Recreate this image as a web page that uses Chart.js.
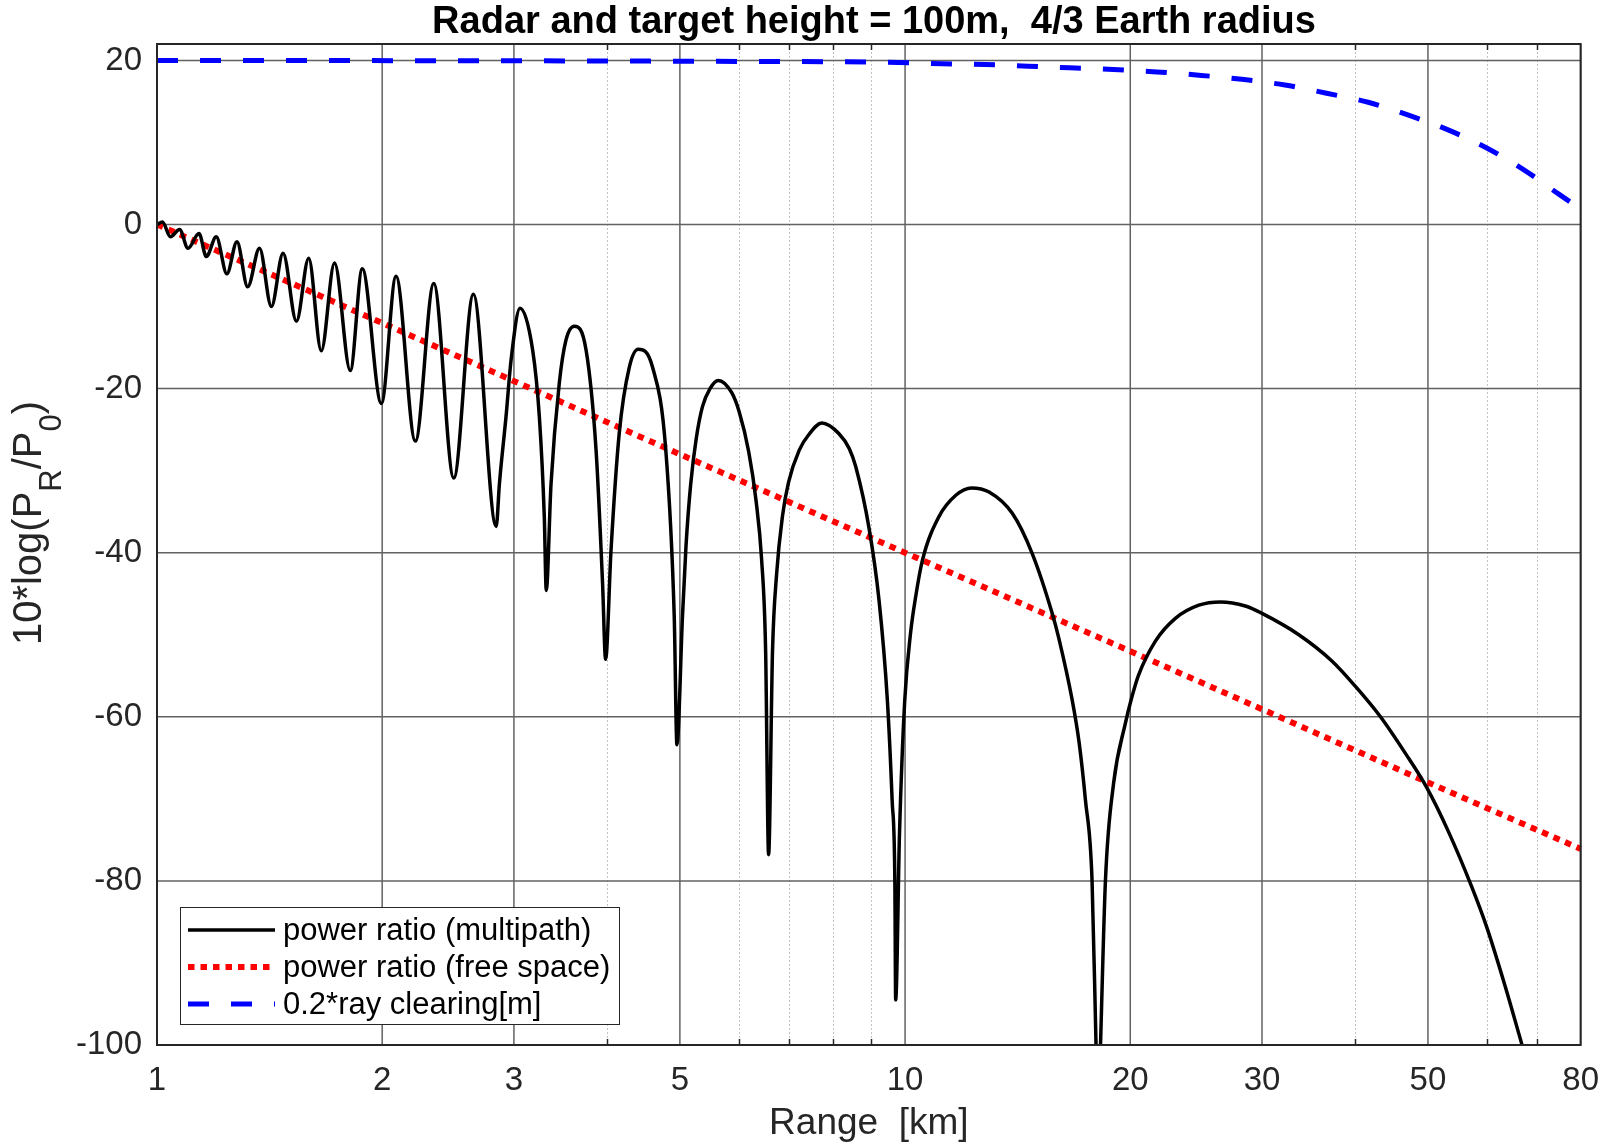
<!DOCTYPE html>
<html>
<head>
<meta charset="utf-8">
<script src="https://cdn.jsdelivr.net/npm/chart.js@4.4.0/dist/chart.umd.min.js"></script>
<style>
  html, body { margin: 0; padding: 0; background: #ffffff; }
  #grafica { display: block; }
</style>
</head>
<body>
<canvas id="grafica" width="1615" height="1143"></canvas>
<script>
// valores
const rango_multipath = [
  1.000, 1.017, 1.042, 1.072, 1.100, 1.138, 1.164, 1.200, 1.240, 1.279,
  1.322, 1.371, 1.422, 1.474, 1.536, 1.595, 1.658, 1.727, 1.813, 1.881,
  1.995, 2.087, 2.215, 2.344, 2.493, 2.648, 2.841, 2.869, 2.928, 2.974,
  3.057, 3.178, 3.244, 3.294, 3.314, 3.363, 3.449, 3.521, 3.613, 3.746,
  3.863, 3.941, 3.978, 4.045, 4.148, 4.279, 4.399, 4.597, 4.788, 4.914,
  4.955, 5.040, 5.095, 5.170, 5.260, 5.360, 5.486, 5.626, 5.865, 6.000,
  6.180, 6.320, 6.430, 6.510, 6.570, 6.650, 6.734, 6.855, 6.987, 7.220,
  7.450, 7.740, 8.160, 8.420, 8.590, 8.950, 9.230, 9.470, 9.610, 9.690,
  9.715, 9.830, 9.990, 10.17, 10.33, 10.55, 11.10, 11.69, 12.27, 12.95,
  13.91, 14.79, 15.73, 16.05, 16.73, 17.09, 17.42, 17.78, 18.00, 18.12,
  18.25, 18.53, 19.00, 19.70, 20.07, 20.50, 21.60, 22.98, 24.70, 26.40,
  28.50, 30.00, 33.60, 37.20, 40.00, 43.20, 46.60, 49.80, 53.20, 57.20,
  59.90, 63.40, 66.90, 68.00
]
const potencia_multipath = [
  0.0, 0.3, -1.5, -0.6, -2.9, -1.1, -3.9, -1.5, -6.0, -2.1,
  -7.6, -2.9, -10.0, -3.5, -11.8, -4.1, -15.4, -4.7, -17.8, -5.4,
  -21.8, -6.3, -26.4, -7.2, -30.9, -8.5, -36.8, -31.6, -23.4, -16.5,
  -10.2, -15.3, -23.4, -35.6, -44.6, -31.6, -19.4, -14.1, -12.4, -15.3,
  -27.5, -43.7, -53.0, -39.7, -25.5, -17.4, -15.2, -17.4, -27.5, -47.8,
  -63.4, -47.8, -39.2, -31.6, -26.0, -22.2, -20.0, -19.0, -20.5, -22.8,
  -27.7, -33.6, -40.8, -51.9, -76.8, -51.9, -42.6, -35.6, -31.4, -27.5,
  -25.5, -24.2, -25.5, -27.3, -29.5, -37.0, -45.8, -58.0, -70.2, -79.9,
  -94.5, -74.2, -58.0, -49.8, -45.4, -40.9, -35.6, -33.0, -32.1, -32.6,
  -35.2, -40.1, -47.4, -50.4, -58.0, -63.2, -70.1, -79.9, -100.0, -110.0,
  -100.0, -79.9, -68.1, -60.8, -57.8, -55.0, -50.8, -48.0, -46.4, -46.0,
  -46.5, -47.4, -50.0, -53.2, -56.3, -60.0, -64.4, -68.6, -73.9, -80.7,
  -85.6, -92.8, -100.2, -102.4
]

const rango_libre = [1, 2, 5, 10, 20, 50, 80]
const potencia_libre = [0, -12, -28, -40, -52, -68, -76.1]

const rango_despeje = [1, 3, 5, 9.8, 11.2, 12.8, 14.6, 16.6, 19.0, 21.7, 24.7, 28.2, 32.2, 36.6, 41.6, 47.2, 53.3, 60.0, 67.1, 74.8, 80]
const despeje = [20, 19.95, 19.9, 19.75, 19.6, 19.5, 19.3, 19.1, 18.9, 18.6, 18.2, 17.7, 17.0, 16.0, 14.9, 13.3, 11.5, 9.3, 6.7, 3.7, 1.9]

const x_ticks = [1, 2, 3, 5, 10, 20, 30, 50, 80]
const x_menores = [4, 6, 7, 8, 9, 40, 60, 70]
const y_ticks = [-100, -80, -60, -40, -20, 0, 20]

const etiquetas = ["power ratio (multipath)", "power ratio (free space)", "0.2*ray clearing[m]"]
const titulo = "Radar and target height = 100m,  4/3 Earth radius"

const fuente = "'Liberation Sans', Arial, Helvetica, sans-serif"
Chart.defaults.font.family = fuente

function juntar(xs, ys) {
  const puntos = []
  for (let i = 0; i < xs.length; i++) {
    puntos.push({ x: xs[i], y: ys[i] })
  }
  return puntos
}

function linea(ctx, x1, y1, x2, y2) {
  ctx.beginPath()
  ctx.moveTo(x1, y1)
  ctx.lineTo(x2, y2)
  ctx.stroke()
}

function dibujar_leyenda(chart) {
  const ctx = chart.ctx
  const caja = { x: 180.5, y: 907.5, w: 439, h: 117 }
  ctx.save()
  ctx.fillStyle = '#ffffff'
  ctx.fillRect(caja.x, caja.y, caja.w, caja.h)
  ctx.strokeStyle = '#262626'
  ctx.lineWidth = 1
  ctx.strokeRect(caja.x, caja.y, caja.w, caja.h)

  const filas = [930, 967, 1004]
  chart.data.datasets.forEach((ds, i) => {
    ctx.strokeStyle = ds.borderColor
    ctx.lineWidth = ds.borderWidth
    ctx.setLineDash(ds.borderDash || [])
    ctx.lineCap = 'butt'
    linea(ctx, 188, filas[i], 275, filas[i])
    ctx.setLineDash([])
    ctx.fillStyle = '#000000'
    ctx.font = `31px ${fuente}`
    ctx.textBaseline = 'middle'
    ctx.textAlign = 'left'
    ctx.fillText(ds.label, 283, filas[i] + 1)
  })
  ctx.restore()
}

function dibujar_titulo(chart) {
  const ctx = chart.ctx
  ctx.save()
  ctx.font = `bold 38px ${fuente}`
  ctx.fillStyle = '#000000'
  ctx.textAlign = 'center'
  ctx.textBaseline = 'middle'
  ctx.fillText(titulo, 874, 23)
  ctx.restore()
}

function dibujar_titulo_y(ctx) {
  const f = 40
  const fs = 31
  const partes = [['10*log(P', f, 0], ['R', fs, 1], ['/P', f, 0], ['0', fs, 1], [')', f, 0]]
  ctx.save()
  let total = 0
  for (const p of partes) {
    ctx.font = `${p[1]}px ${fuente}`
    total += ctx.measureText(p[0]).width
  }
  ctx.translate(41, 523)
  ctx.rotate(-Math.PI / 2)
  ctx.fillStyle = '#262626'
  ctx.textBaseline = 'alphabetic'
  ctx.textAlign = 'left'
  let pos = -total / 2
  for (const p of partes) {
    ctx.font = `${p[1]}px ${fuente}`
    ctx.fillText(p[0], pos, p[2] ? f * 0.5 : 0)
    pos += ctx.measureText(p[0]).width
  }
  ctx.restore()
}

const ejes_matlab = {
  id: 'ejes_matlab',
  beforeDatasetsDraw(chart) {
    const { ctx, chartArea: a, scales: { x, y } } = chart
    ctx.save()
    ctx.strokeStyle = '#c2c2c2'
    ctx.lineWidth = 1
    ctx.setLineDash([2, 2])
    for (const v of x_menores) {
      const px = Math.round(x.getPixelForValue(v)) + 0.5
      linea(ctx, px, a.top, px, a.bottom)
    }
    ctx.setLineDash([])
    ctx.strokeStyle = '#626262'
    ctx.lineWidth = 1.5
    for (const v of x_ticks) {
      const px = x.getPixelForValue(v)
      linea(ctx, px, a.top, px, a.bottom)
    }
    for (const v of y_ticks) {
      const py = y.getPixelForValue(v)
      linea(ctx, a.left, py, a.right, py)
    }
    ctx.restore()
  },
  afterDatasetsDraw(chart) {
    const { ctx, chartArea: a, scales: { x } } = chart
    ctx.save()
    ctx.strokeStyle = '#262626'
    ctx.lineWidth = 1.5
    for (const v of x_menores) {
      const px = Math.round(x.getPixelForValue(v)) + 0.5
      linea(ctx, px, a.top, px, a.top + 6)
      linea(ctx, px, a.bottom, px, a.bottom - 6)
    }
    ctx.lineWidth = 2
    ctx.strokeRect(a.left, a.top, a.right - a.left, a.bottom - a.top)
    ctx.restore()
    dibujar_leyenda(chart)
  },
  afterDraw(chart) {
    dibujar_titulo(chart)
    dibujar_titulo_y(chart.ctx)
  }
}

function crear_grafico() {
  const $grafica = document.querySelector('#grafica')
  new Chart($grafica, {
    type: 'line',
    data: {
      datasets: [
        {
          label: etiquetas[0],
          data: juntar(rango_multipath, potencia_multipath),
          borderColor: '#000000',
          borderWidth: 3.5,
          cubicInterpolationMode: 'monotone',
          pointRadius: 0,
          clip: 1
        },
        {
          label: etiquetas[1],
          data: juntar(rango_libre, potencia_libre),
          borderColor: '#ff0000',
          borderWidth: 6,
          borderDash: [6.5, 6],
          tension: 0,
          pointRadius: 0,
          clip: 2
        },
        {
          label: etiquetas[2],
          data: juntar(rango_despeje, despeje),
          borderColor: '#0000ff',
          borderWidth: 5,
          borderDash: [21, 22],
          cubicInterpolationMode: 'monotone',
          pointRadius: 0,
          clip: 2
        }
      ]
    },
    options: {
      responsive: false,
      animation: false,
      devicePixelRatio: 1,
      layout: { padding: { left: 0, right: 33, top: 44, bottom: 0 } },
      scales: {
        x: {
          type: 'logarithmic',
          min: 1,
          max: 80,
          afterBuildTicks: (s) => { s.ticks = x_ticks.map(v => ({ value: v })) },
          afterFit: (s) => { s.height = 98 },
          grid: { display: false, drawTicks: false },
          border: { display: false },
          ticks: {
            color: '#262626',
            font: { size: 33 },
            padding: 16,
            maxRotation: 0,
            autoSkip: false,
            callback: (v) => String(v)
          },
          title: {
            display: true,
            text: 'Range  [km]',
            color: '#262626',
            font: { size: 37 },
            padding: { top: 0, bottom: -3 }
          }
        },
        y: {
          type: 'linear',
          min: -100,
          max: 22,
          afterBuildTicks: (s) => { s.ticks = y_ticks.map(v => ({ value: v })) },
          afterFit: (s) => { s.width = 157 },
          grid: { display: false, drawTicks: false },
          border: { display: false },
          ticks: {
            color: '#262626',
            font: { size: 33 },
            padding: 15,
            callback: (v) => String(v)
          }
        }
      },
      plugins: {
        legend: { display: false },
        tooltip: { enabled: false },
        title: { display: false }
      }
    },
    plugins: [ejes_matlab]
  })
}

crear_grafico()
</script>
</body>
</html>
